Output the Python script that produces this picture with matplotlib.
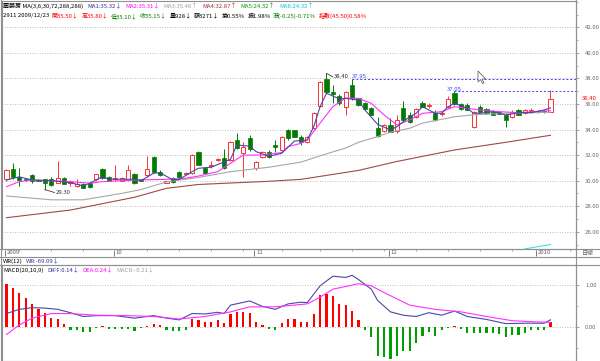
import numpy as np
import matplotlib
matplotlib.use('Agg')
import matplotlib.pyplot as plt
from matplotlib import font_manager
from matplotlib.lines import Line2D
from matplotlib.patches import Polygon
from matplotlib.ticker import FormatStrFormatter, MultipleLocator

names = sorted({f.name for f in font_manager.fontManager.ttflist})
cjk = [n for n in ['Noto Sans CJK TC', 'Noto Sans CJK SC', 'Noto Sans CJK JP'] if n in names]
cjk += [n for n in names if 'CJK' in n and n not in cjk]
FONTS = cjk[:1] + ['DejaVu Sans']
plt.rcParams['font.family'] = FONTS

# daily candles (index 0 = first bar on the left)
opens = [30.10, 30.95, 30.25, 30.10, 30.45, 30.05, 30.10, 30.15, 29.85, 30.20,
         29.80, 29.58, 29.70, 29.85, 30.10, 30.90, 30.30, 30.10, 30.00, 30.05,
         30.50, 30.10, 30.45, 31.85, 30.70, 29.85, 30.20, 30.70, 30.55, 30.58,
         32.25, 30.97, 31.18, 31.62, 31.75, 31.62, 33.18, 32.20, 33.30, 30.97,
         31.85, 32.25, 32.80, 32.40, 33.96, 33.96, 33.39, 33.05, 34.10, 35.85,
         37.92, 36.95, 36.65, 35.80, 37.45, 36.44, 36.05, 35.66, 34.10, 33.90,
         34.35, 33.90, 35.66, 35.14, 34.96, 36.10, 35.85, 35.27, 35.20, 35.79,
         36.84, 36.00, 35.95, 34.22, 35.79, 35.58, 35.40, 35.35, 35.14, 35.00,
         35.53, 35.30, 35.45, 35.45, 35.45, 35.40]
highs = [30.95, 31.35, 31.00, 30.20, 30.55, 30.15, 30.15, 30.25, 31.50, 30.30,
         30.05, 30.10, 29.80, 29.90, 30.55, 31.00, 30.35, 31.25, 30.30, 31.20,
         30.60, 30.15, 31.90, 31.90, 30.85, 29.95, 30.25, 30.75, 30.65, 32.05,
         32.30, 31.10, 31.55, 31.75, 32.50, 33.10, 33.75, 33.05, 33.60, 31.55,
         32.35, 32.40, 33.20, 33.50, 34.05, 34.00, 33.60, 33.50, 35.40, 37.80,
         38.40, 37.50, 36.75, 37.00, 37.95, 36.50, 36.15, 35.80, 35.00, 34.40,
         34.90, 35.10, 36.20, 35.40, 35.70, 36.20, 36.05, 35.50, 35.45, 36.60,
         37.05, 36.10, 36.05, 35.45, 35.90, 35.65, 35.50, 35.45, 35.30, 35.50,
         35.60, 35.60, 35.70, 35.55, 35.55, 37.10]
lows = [30.00, 30.10, 29.55, 29.95, 29.85, 29.95, 29.30, 29.60, 29.80, 29.70,
        29.60, 29.50, 29.40, 29.45, 30.00, 30.15, 29.95, 30.00, 29.95, 29.95,
        29.75, 29.95, 30.30, 30.65, 30.40, 29.80, 29.85, 30.25, 30.50, 30.50,
        31.20, 30.50, 31.00, 31.55, 30.95, 31.55, 32.45, 30.30, 32.30, 30.85,
        31.75, 31.80, 32.25, 32.30, 33.20, 33.40, 32.80, 32.95, 33.95, 35.75,
        36.80, 36.10, 35.95, 35.14, 36.35, 35.85, 35.55, 35.10, 33.45, 33.80,
        33.80, 33.70, 34.60, 34.55, 34.90, 35.75, 35.70, 34.70, 35.05, 35.70,
        35.95, 35.55, 35.50, 34.15, 35.35, 35.20, 35.10, 35.20, 34.22, 34.90,
        35.10, 35.25, 35.30, 35.30, 35.30, 35.35]
closes = [30.85, 30.25, 30.05, 30.05, 29.95, 30.00, 29.85, 29.65, 30.20, 29.75,
          29.90, 29.72, 29.45, 29.50, 30.50, 30.20, 30.00, 30.20, 30.20, 30.85,
          29.80, 30.00, 30.90, 30.70, 30.45, 29.95, 29.90, 30.30, 30.62, 31.98,
          31.22, 30.58, 31.26, 31.70, 30.98, 33.05, 32.53, 32.65, 32.50, 31.48,
          32.27, 31.87, 32.60, 33.44, 33.31, 33.44, 33.05, 33.44, 35.27, 37.70,
          36.92, 36.75, 36.10, 36.96, 36.45, 35.92, 35.58, 35.14, 33.50, 34.35,
          33.83, 34.75, 34.75, 34.61, 35.58, 35.79, 35.92, 34.75, 35.27, 36.39,
          36.00, 35.58, 35.53, 35.40, 35.40, 35.27, 35.14, 35.25, 34.75, 35.40,
          35.14, 35.50, 35.50, 35.38, 35.35, 36.40]

# moving averages, read at sampled bars
ma1_idx = [0, 2, 4, 7, 10, 12, 13, 15, 16, 20, 21, 23, 24, 26, 27, 29, 30, 32, 35,
           36, 38, 39, 41, 43, 45, 47, 48, 49, 50, 52, 53, 55, 56, 58, 60, 61, 63,
           64, 65, 67, 68, 69, 70, 72, 73, 74, 76, 78, 80, 82, 84, 85]
ma1_val = [30.05, 30.30, 30.05, 30.00, 29.84, 29.58, 29.80, 30.31, 30.11, 30.11,
           30.00, 30.58, 30.62, 30.05, 30.10, 30.70, 30.97, 31.05, 31.67, 32.79,
           32.70, 32.27, 31.90, 32.14, 33.10, 33.18, 34.22, 35.79, 36.84, 36.40,
           36.44, 36.30, 35.53, 34.40, 33.97, 34.22, 35.00, 35.27, 35.79, 35.27,
           35.27, 35.79, 36.05, 35.66, 35.27, 35.27, 35.40, 35.14, 35.32, 35.32,
           35.53, 35.70]
ma2_idx = [0, 2, 4, 10, 13, 15, 20, 25, 28, 30, 33, 35, 37, 40, 43, 44, 46, 47, 49,
           51, 53, 55, 57, 59, 61, 63, 65, 68, 70, 72, 74, 77, 80, 85]
ma2_val = [29.53, 29.92, 30.05, 29.92, 29.80, 29.92, 30.05, 30.10, 30.19, 30.36,
           30.70, 31.36, 32.00, 32.00, 32.20, 32.66, 32.92, 33.18, 34.50, 35.79,
           36.47, 36.44, 36.05, 35.14, 34.36, 34.75, 35.27, 35.40, 35.79, 35.66,
           35.53, 35.40, 35.32, 35.48]
ma3_idx = [0, 7, 12, 18, 21, 25, 30, 35, 41, 46, 50, 53, 55, 58, 60, 63, 65, 70, 73, 78, 85]
ma3_val = [28.80, 28.50, 28.50, 29.00, 29.30, 29.90, 30.25, 30.70, 31.05, 31.45,
           32.10, 32.55, 33.00, 33.45, 33.80, 34.10, 34.50, 35.00, 35.15, 35.28, 35.35]
ma4_idx = [0, 10, 20, 25, 30, 41, 46, 55, 61, 70, 78, 85]
ma4_val = [27.10, 27.70, 28.70, 29.40, 29.70, 29.95, 30.10, 30.80, 31.50, 32.40, 33.00, 33.55]
ma6_idx = [81, 85]
ma6_val = [24.66, 25.00]

# MACD histogram (one per bar) and DIFF / DEA lines
macd_bars = [1.03, 0.94, 0.82, 0.68, 0.55, 0.44, 0.34, 0.21, 0.18, 0.08,
             -0.06, -0.08, -0.12, -0.11, -0.02, 0.03, -0.05, -0.04, -0.05, -0.04,
             -0.10, -0.02, 0.03, 0.07, 0.04, -0.06, -0.10, -0.10, -0.08, 0.18,
             0.17, 0.12, 0.12, 0.17, 0.09, 0.32, 0.36, 0.36, 0.34, 0.12,
             0.05, -0.05, -0.08, 0.09, 0.18, 0.18, 0.12, 0.11, 0.31, 0.75,
             0.78, 0.73, 0.55, 0.52, 0.38, 0.17, -0.06, -0.25, -0.68, -0.72,
             -0.77, -0.68, -0.58, -0.56, -0.37, -0.22, -0.12, -0.22, -0.06, -0.02,
             0.03, -0.05, -0.14, -0.14, -0.15, -0.15, -0.15, -0.17, -0.24, -0.18,
             -0.18, -0.15, -0.06, -0.06, -0.08, 0.11]
diff_idx = [0, 2, 4, 6, 8, 10, 12, 14, 17, 20, 23, 25, 27, 29, 31, 33, 34, 35, 38,
            40, 42, 44, 46, 47, 49, 51, 53, 54, 55, 57, 58, 60, 62, 64, 66, 68, 70,
            72, 75, 78, 81, 84, 85]
diff_val = [0.32, 0.42, 0.46, 0.45, 0.42, 0.34, 0.25, 0.27, 0.27, 0.21, 0.27, 0.21,
            0.17, 0.32, 0.31, 0.35, 0.32, 0.52, 0.62, 0.49, 0.42, 0.55, 0.59, 0.58,
            0.98, 1.21, 1.18, 1.23, 1.13, 0.90, 0.63, 0.36, 0.28, 0.25, 0.34, 0.28,
            0.38, 0.25, 0.18, 0.08, 0.09, 0.09, 0.17]
dea_idx = [0, 2, 4, 7, 10, 14, 19, 23, 27, 31, 35, 38, 42, 47, 49, 51, 55, 57, 59,
           63, 67, 71, 75, 79, 83, 85]
dea_val = [-0.18, 0.05, 0.21, 0.32, 0.32, 0.28, 0.27, 0.25, 0.19, 0.25, 0.36, 0.48,
           0.48, 0.55, 0.71, 0.90, 1.03, 0.98, 0.82, 0.52, 0.42, 0.36, 0.25, 0.15,
           0.12, 0.11]

month_pos = [0, 17, 39, 60, 83]
month_labels = ['2009', '10', '11', '12', '2010']
week_ticks = [2, 7, 12, 22, 27, 32, 37, 43, 49, 54, 59, 64, 69, 74, 79, 88]

RED = '#ff3030'
GREEN = '#007a00'
NAVY = '#4848a8'
MAGENTA = '#ff30ff'
GRID = '#a8a8a8'
FRAME = '#909090'
FS = 4.3

W, H = 600, 361
fig = plt.figure(figsize=(6, 3.61), dpi=100)
fig.patch.set_facecolor('white')


def box(x0, y0, x1, y1):
    return [x0 / W, 1 - y1 / H, (x1 - x0) / W, (y1 - y0) / H]


def fline(x0, y0, x1, y1, color=FRAME, lw=0.8):
    fig.add_artist(Line2D([x0 / W, x1 / W], [1 - y0 / H, 1 - y1 / H],
                          transform=fig.transFigure, color=color, lw=lw))


renderer = fig.canvas.get_renderer()


def put_parts(x, y, parts, gap=3.5):
    # write coloured pieces one after another, like the header of the chart
    for s, c in parts:
        t = fig.text(x / W, 1 - y / H, s, color=c, fontsize=FS, ha='left', va='center')
        x += t.get_window_extent(renderer=renderer).width + gap


XMIN = -0.70
XMAX = XMIN + 574 / 6.4

# ---- price panel ----
ax = fig.add_axes(box(2, 1, 576, 249))
ax.set_xlim(XMIN, XMAX)
ax.set_ylim(24.65, 44.06)
ax.set_xticks([])
ax.yaxis.tick_right()
ax.set_yticks(np.arange(26, 43, 2))
ax.yaxis.set_minor_locator(MultipleLocator(1))
ax.yaxis.set_major_formatter(FormatStrFormatter('%.2f'))
ax.tick_params(axis='y', which='major', length=2.5, width=0.6, color=FRAME,
               labelsize=FS, labelcolor='#6a6a6a', pad=4)
ax.tick_params(axis='y', which='minor', length=1.5, width=0.5, color=FRAME)
for s in ax.spines.values():
    s.set_color(FRAME)
    s.set_linewidth(0.8)
for v in range(26, 43, 2):
    ax.axhline(v, color=GRID, lw=0.6, ls=(0, (1, 2)), zorder=0)

o = np.array(opens)
h = np.array(highs)
l = np.array(lows)
c = np.array(closes)
x = np.arange(len(c))
up = c >= o
col = np.where(up, RED, GREEN)
ax.vlines(x, l, h, colors=col, lw=0.7, zorder=2)
bottom = np.minimum(o, c)
height = np.maximum(np.abs(c - o), 0.03)
ax.bar(x[up], height[up], bottom=bottom[up], width=0.66, facecolor='white',
       edgecolor=RED, lw=0.7, zorder=3)
ax.bar(x[~up], height[~up], bottom=bottom[~up], width=0.66, facecolor=GREEN,
       edgecolor=GREEN, lw=0.5, zorder=3)

ax.plot(ma4_idx, ma4_val, color='#a04848', lw=0.8, zorder=4)
ax.plot(ma3_idx, ma3_val, color='#a8a8a8', lw=0.8, zorder=4)
ax.plot(ma2_idx, ma2_val, color=MAGENTA, lw=0.8, zorder=4)
ax.plot(ma1_idx, ma1_val, color=NAVY, lw=0.8, zorder=5)
ax.plot(ma6_idx, ma6_val, color='#40e0e0', lw=0.8, zorder=4)

# high / low marks
ax.hlines(37.95, 54, XMAX, colors='#4040ff', lw=0.7, linestyles=(0, (2, 2)), zorder=1)
ax.hlines(37.05, 70, XMAX, colors='#4040ff', lw=0.7, linestyles=(0, (2, 2)), zorder=1)
ax.plot([50, 51.0], [38.40, 38.12], color='#404040', lw=0.6)
ax.text(51.2, 38.12, '38.40', fontsize=FS, color='#303030', va='center', ha='left')
ax.text(53.9, 38.12, '37.95', fontsize=FS, color='#4040ff', va='center', ha='left')
ax.text(68.8, 37.17, '37.05', fontsize=FS, color='#4040ff', va='center', ha='left')
ax.plot([6, 7.5], [29.30, 29.07], color='#404040', lw=0.6)
ax.text(7.7, 29.07, '29.30', fontsize=FS, color='#303030', va='center', ha='left')
ax.text(1 + 6 / 574, closes[-1], '%.2f' % closes[-1], transform=ax.get_yaxis_transform(),
        fontsize=FS, color='#ff0000', va='center', ha='left',
        bbox=dict(facecolor='white', edgecolor='none', pad=0.3))

# ---- date strip ----
axt = fig.add_axes(box(2, 249, 576, 257))
axt.set_xlim(XMIN, XMAX)
axt.set_ylim(0, 1)
axt.axis('off')
axt.vlines(week_ticks, 0.7, 1.0, colors=FRAME, lw=0.6)
for p, lab in zip(month_pos, month_labels):
    axt.vlines(p - 0.25, 0.1, 0.9, colors='#606060', lw=0.6)
    axt.text(p, 0.5, lab, fontsize=FS, color='#606060', va='center', ha='left')
fig.text(582 / W, 1 - 253 / H, '日線', fontsize=FS, color='#606060', va='center', ha='left')

# ---- MACD panel ----
axm = fig.add_axes(box(2, 265, 576, 361))
axm.set_xlim(XMIN, XMAX)
axm.set_ylim(-0.81, 1.476)
axm.set_xticks([])
axm.yaxis.tick_right()
axm.set_yticks([0, 1])
axm.yaxis.set_minor_locator(MultipleLocator(0.5))
axm.yaxis.set_major_formatter(FormatStrFormatter('%.2f'))
axm.tick_params(axis='y', which='major', length=2.5, width=0.6, color=FRAME,
                labelsize=FS, labelcolor='#6a6a6a', pad=4)
axm.tick_params(axis='y', which='minor', length=1.5, width=0.5, color=FRAME)
for s in axm.spines.values():
    s.set_color(FRAME)
    s.set_linewidth(0.8)
axm.axhline(1, color=GRID, lw=0.6, ls=(0, (1, 2)), zorder=0)
axm.axhline(0, color=GRID, lw=0.6, ls=(0, (1, 2)), zorder=0)
mb = np.array(macd_bars)
axm.bar(x, mb, width=0.32, color=np.where(mb >= 0, '#ff0000', '#00a000'), zorder=2)
axm.plot(diff_idx, diff_val, color=NAVY, lw=0.8, zorder=3)
axm.plot(dea_idx, dea_val, color=MAGENTA, lw=0.8, zorder=3)

# separators and outer frame
fline(0, 249, 600, 249)
fline(0, 257, 600, 257)
fline(0, 265, 600, 265)
fline(576, 0, 576, 361)
fline(1, 0, 1, 361)

# header lines
put_parts(3, 6, [('麗嬰房 MA(3,6,30,72,288,288)', '#000000'),
                 ('MA1:35.32↓', '#3030a0'), ('MA2:35.31↓', '#ff00ff'),
                 ('MA3:35.46↑', '#a0a0a0'), ('MA4:32.87↑', '#a03030'),
                 ('MA5:24.32↑', '#00a000'), ('MA6:24.32↑', '#00c8c8')], gap=4)
put_parts(3, 16, [('2911 2009/12/23', '#000000'), ('開35.50↓', '#ff0000'),
                  ('高35.80↓', '#ff0000'), ('低35.10↓', '#008000'),
                  ('收35.15↓', '#008000'), ('量928↓', '#000000'),
                  ('額3271↓', '#000000'), ('換0.55%', '#000000'),
                  ('振1.98%', '#000000'), ('漲(-0.25)-0.71%', '#008000'),
                  ('指數(45.50)0.58%', '#ff0000')], gap=2.5)
put_parts(3, 261, [('WR(12)', '#000000'), ('WR:-69.09↓', '#3030a0')])
put_parts(3, 270, [('MACD(20,10,9)', '#000000'), ('DIFF:0.14↓', '#3030a0'),
                   ('DEA:0.24↓', '#ff00ff'), ('MACD:-0.21↓', '#a0a0a0')])

# mouse pointer left on the screenshot
pts = [(0, 0), (0, 11), (2.5, 8.5), (4.5, 12.5), (6, 12), (4, 8), (7.5, 8)]
fig.add_artist(Polygon([((478 + px) / W, 1 - (71 + py) / H) for px, py in pts],
                       closed=True, transform=fig.transFigure, facecolor='white',
                       edgecolor='#505050', lw=0.5))

fig.savefig('out.png', dpi=100)
